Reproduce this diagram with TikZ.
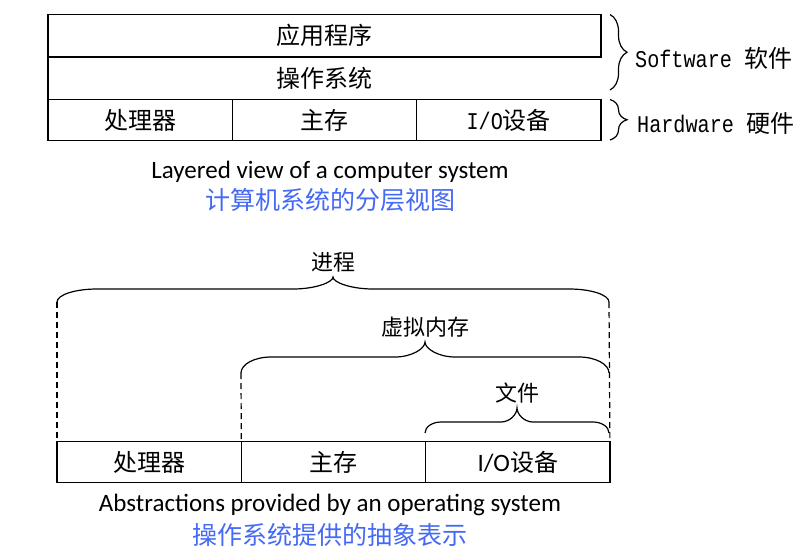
\documentclass[tikz,border=0pt]{standalone}
\usepackage{fontspec}
\setmainfont{Carlito}
\newfontfamily\cjk{Noto Sans CJK SC}
\newfontfamily\mono[FakeStretch=0.84]{Liberation Mono}
\usetikzlibrary{positioning,decorations.pathreplacing}
\definecolor{capblue}{RGB}{68,105,245}
\tikzset{
  cell/.style={draw,line width=1.3pt,minimum width=184.3pt,minimum height=41pt,
    inner sep=0pt,outer sep=0pt,font=\fontsize{24}{28}\selectfont\cjk},
  brc/.style={line width=1.2pt},
  guide/.style={line width=1.2pt,dash pattern=on 6pt off 4pt},
  lbl/.style={inner sep=0pt,font=\fontsize{22}{26}\selectfont\cjk},
  side/.style={anchor=west,inner sep=0pt,font=\fontsize{24}{28}\selectfont\cjk},
  capen/.style={inner sep=0pt,font=\fontsize{25}{30}\selectfont},
  capcn/.style={inner sep=0pt,text=capblue,font=\fontsize{25}{30}\selectfont\cjk}
}
\begin{document}
\begin{tikzpicture}[x=1pt,y=-1pt]
  \useasboundingbox (0,0) rectangle (810,552);
  % layered view
  \node[cell,minimum width=553pt,minimum height=42.5pt,anchor=north west] (app) at (48,14.5) {应用程序};
  \node[lbl,font=\fontsize{24}{28}\selectfont\cjk] (os) at (324.5,78) {操作系统};
  \node[cell,anchor=north west] (cpu) at (48,99.5) {处理器};
  \node[cell,right=0pt of cpu] (mem) {主存};
  \node[cell,right=0pt of mem] (io) {{\mono\fontsize{24}{28}\selectfont I/O}设备};
  \draw[line width=1.3pt] (app.south west) -- (cpu.north west);
  \draw[brc,decorate,decoration={brace,amplitude=17pt}] (610,14.5) -- (610,90);
  \draw[brc,decorate,decoration={brace,amplitude=17pt}] (610,99.5) -- (610,140);
  \node[side] (sw) at (635,58) {{\mono\fontsize{24}{28}\selectfont Software }软件};
  \node[side] (hw) at (637,123) {{\mono\fontsize{24}{28}\selectfont Hardware }硬件};
  \node[capen] (layered) at (330,172) {Layered view of a computer system};
  \node[capcn] (layeredcn) at (330,200) {计算机系统的分层视图};
  % abstractions
  \node[cell,anchor=north west] (cpu2) at (57,441.7) {处理器};
  \node[cell,right=0pt of cpu2] (mem2) {主存};
  \node[cell,right=0pt of mem2] (io2) {{\fontspec{Carlito}\fontsize{25}{28}\selectfont I/O}设备};
  \foreach \xa/\xb/\ye/\yf/\yt/\w/\nm/\txt in {57/609/302/289/277/40/proc/进程,
      241/609/373/357/342/30/vm/虚拟内存, 425/609/433/422/408/16/file/文件} {
    \pgfmathsetmacro\xm{(\xa+\xb)/2}
    \draw[brc] (\xa,\ye) .. controls (\xa,{\yf+0.45*(\ye-\yf)}) and ({\xa+0.45*\w},\yf) .. ({\xa+\w},\yf)
      -- ({\xm-\w},\yf) .. controls ({\xm-0.45*\w},\yf) and (\xm,{\yt+0.45*(\yf-\yt)}) .. (\xm,\yt)
      .. controls (\xm,{\yt+0.45*(\yf-\yt)}) and ({\xm+0.45*\w},\yf) .. ({\xm+\w},\yf)
      -- ({\xb-\w},\yf) .. controls ({\xb-0.45*\w},\yf) and (\xb,{\yf+0.45*(\ye-\yf)}) .. (\xb,\ye);
    \coordinate (\nm-l) at (\xa,\ye);
    \coordinate (\nm-r) at (\xb,\ye);
    \node[lbl,above=5pt] (\nm) at (\xm,\yt) {\txt};
  }
  \draw[guide] (proc-l) -- (cpu2.north west);
  \draw[guide] (vm-l) -- (mem2.north west);
  \draw[guide] (proc-r) -- (io2.north east);
  \node[capen] (abstr) at (330,505) {Abstractions provided by an operating system};
  \node[capcn] (abstrcn) at (330,535) {操作系统提供的抽象表示};
\end{tikzpicture}
\end{document}
